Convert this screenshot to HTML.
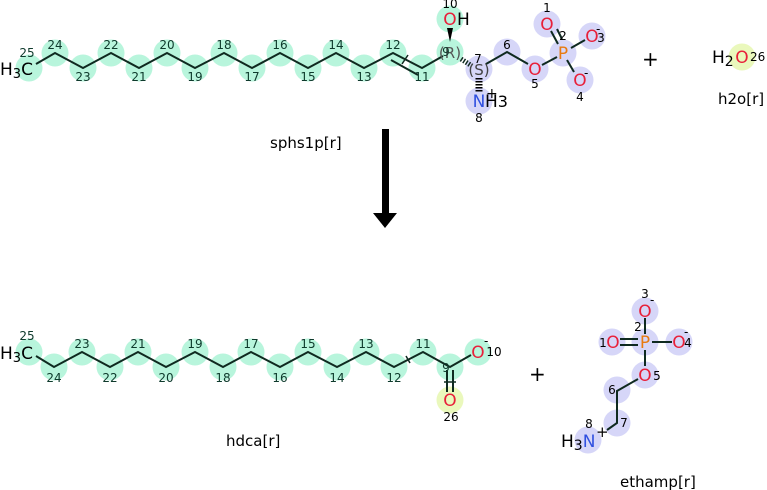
<!DOCTYPE html>
<html><head><meta charset="utf-8"><style>
html,body{margin:0;padding:0;background:#fff;}
svg{display:block;font-family:"DejaVu Sans","Liberation Sans",sans-serif;}
.g{fill:#b8f5dc}.b{fill:#d6d6f8}.y{fill:#eaf8bc}
.n{font-size:12px;fill:#0e3a2c;text-anchor:middle}
.k{font-size:12px;fill:#000;text-anchor:middle}
.bd{stroke:#0f2a20;stroke-width:2;fill:none}
.O{fill:#e8203a;font-size:17px;text-anchor:middle}
.P{fill:#e87a10;font-size:17px;text-anchor:middle}
.N{fill:#3050e0;font-size:17px;text-anchor:middle}
.t{font-size:17px;fill:#000}
.lab{font-size:15px;fill:#000}
</style></head><body>
<svg width="767" height="490" viewBox="0 0 767 490">
<g class="g">
<circle cx="29" cy="68" r="13.5"/><circle cx="55" cy="53" r="13.5"/><circle cx="83" cy="68" r="13.5"/><circle cx="111" cy="53" r="13.5"/><circle cx="139" cy="68" r="13.5"/><circle cx="167" cy="53" r="13.5"/><circle cx="195" cy="68" r="13.5"/><circle cx="224" cy="53" r="13.5"/><circle cx="252" cy="68" r="13.5"/><circle cx="280" cy="53" r="13.5"/><circle cx="308" cy="68" r="13.5"/><circle cx="336" cy="53" r="13.5"/><circle cx="364" cy="68" r="13.5"/><circle cx="393" cy="53" r="13.5"/><circle cx="422" cy="68" r="13.5"/><circle cx="450" cy="52" r="13.5"/><circle cx="450" cy="19" r="13.5"/>
</g>
<g class="b">
<circle cx="479" cy="69" r="13.5"/><circle cx="479" cy="101" r="13.5"/><circle cx="507" cy="52" r="13.5"/><circle cx="535" cy="69" r="13.5"/><circle cx="563" cy="53" r="13.5"/><circle cx="547" cy="24" r="13.5"/><circle cx="592" cy="36" r="13.5"/><circle cx="580" cy="80" r="13.5"/>
</g>
<circle class="y" cx="742" cy="57" r="13.5"/>
<polyline class="bd" points="36,64 55,53 83,68 111,53 139,68 167,53 195,68 224,53 252,68 280,53 308,68 336,53 364,68 393,53 422,68 443,56"/>
<line class="bd" x1="391" y1="60" x2="418" y2="75"/>
<line class="bd" x1="402" y1="64" x2="408" y2="55" style="stroke-width:1.5"/>
<polygon points="450,42 447,28 453,28" fill="#000"/>
<line class="bd" x1="461" y1="59" x2="472" y2="66" style="stroke-dasharray:1.5,1.5;stroke-width:5"/>
<line x1="479" y1="78" x2="479" y2="93" stroke="#000" stroke-width="7" stroke-dasharray="1.5,1.5"/>
<polyline class="bd" points="486,64 507,52 528,64"/>
<line class="bd" x1="542" y1="65" x2="557" y2="57"/>
<line class="bd" x1="571" y1="48" x2="585" y2="40"/>
<line class="bd" x1="567" y1="60" x2="574" y2="72"/>
<line class="bd" x1="551" y1="31" x2="558" y2="44"/>
<line class="bd" x1="557" y1="29" x2="562" y2="39"/>
<text class="t" x="0" y="75">H<tspan font-size="13" dy="3">3</tspan><tspan dy="-3">C</tspan></text>
<text class="O" x="450" y="25">O</text><text class="t" x="457" y="25">H</text>
<text x="450" y="58" font-size="15" fill="#555" text-anchor="middle">(R)</text>
<text x="479" y="75" font-size="15" fill="#444" text-anchor="middle">(S)</text>
<text class="N" x="479" y="107">N</text><text class="t" x="485" y="107">H<tspan font-size="16">3</tspan></text>
<text x="486" y="98" font-size="14" fill="#000">+</text>
<text class="O" x="535" y="75">O</text>
<text class="P" x="563" y="59">P</text>
<text class="O" x="547" y="30">O</text>
<text class="O" x="592" y="42">O</text>
<text class="O" x="580" y="86">O</text>
<text x="596" y="33" font-size="12">-</text>
<text x="584" y="77" font-size="12">-</text>
<text class="k" x="601" y="42">3</text>
<g class="n">
<text x="27" y="57">25</text><text x="55" y="49">24</text><text x="83" y="81">23</text><text x="111" y="49">22</text><text x="139" y="81">21</text><text x="167" y="49">20</text><text x="195" y="81">19</text><text x="224" y="49">18</text><text x="252" y="81">17</text><text x="280" y="49">16</text><text x="308" y="81">15</text><text x="336" y="49">14</text><text x="364" y="81">13</text><text x="393" y="49">12</text><text x="422" y="81">11</text><text x="446" y="56">9</text>
</g>
<g class="k">
<text x="450" y="8">10</text><text x="478" y="63">7</text><text x="479" y="122">8</text><text x="507" y="49">6</text><text x="535" y="88">5</text><text x="547" y="12">1</text><text x="563" y="40">2</text><text x="580" y="101">4</text>
</g>
<text class="t" x="712" y="63">H<tspan font-size="14" dy="3">2</tspan></text>
<text class="O" x="742" y="63">O</text>
<text x="750" y="61" font-size="12">26</text>
<text x="642" y="66" font-size="20">+</text>
<text class="lab" x="718" y="104">h2o[r]</text>
<text class="lab" x="270" y="148">sphs1p[r]</text>
<rect x="382" y="129" width="7" height="86" fill="#000"/>
<polygon points="373,213 397,213 385,228" fill="#000"/>
<g class="g">
<circle cx="29" cy="352" r="13.5"/><circle cx="54" cy="367" r="13.5"/><circle cx="82" cy="352" r="13.5"/><circle cx="110" cy="367" r="13.5"/><circle cx="138" cy="352" r="13.5"/><circle cx="166" cy="367" r="13.5"/><circle cx="195" cy="352" r="13.5"/><circle cx="223" cy="367" r="13.5"/><circle cx="251" cy="352" r="13.5"/><circle cx="280" cy="367" r="13.5"/><circle cx="308" cy="352" r="13.5"/><circle cx="337" cy="367" r="13.5"/><circle cx="366" cy="352" r="13.5"/><circle cx="394" cy="367" r="13.5"/><circle cx="423" cy="352" r="13.5"/><circle cx="450" cy="367" r="13.5"/><circle cx="478" cy="352" r="13.5"/>
</g>
<circle class="y" cx="450" cy="400" r="13.5"/>
<polyline class="bd" points="36,356 54,367 82,352 110,367 138,352 166,367 195,352 223,367 251,352 280,367 308,352 337,367 366,352 394,367 423,352 450,367 471,355"/>
<line class="bd" x1="447" y1="370" x2="447" y2="392"/><line class="bd" x1="453" y1="370" x2="453" y2="392"/>
<line class="bd" x1="444" y1="382" x2="456" y2="382" style="stroke-width:1.5"/>
<line class="bd" x1="406" y1="356" x2="410" y2="363" style="stroke-width:1.5"/>
<text class="t" x="0" y="359">H<tspan font-size="13" dy="3">3</tspan><tspan dy="-3">C</tspan></text>
<text class="O" x="478" y="358">O</text>
<text class="O" x="450" y="406">O</text>
<text x="484" y="345" font-size="12">-</text>
<g class="n">
<text x="27" y="340">25</text><text x="54" y="382">24</text><text x="82" y="348">23</text><text x="110" y="382">22</text><text x="138" y="348">21</text><text x="166" y="382">20</text><text x="195" y="348">19</text><text x="223" y="382">18</text><text x="251" y="348">17</text><text x="280" y="382">16</text><text x="308" y="348">15</text><text x="337" y="382">14</text><text x="366" y="348">13</text><text x="394" y="382">12</text><text x="423" y="348">11</text><text x="446" y="372">9</text>
</g>
<text class="k" x="494" y="356">10</text>
<text class="k" x="451" y="421">26</text>
<text x="529" y="381" font-size="20">+</text>
<text class="lab" x="226" y="446">hdca[r]</text>
<g class="b">
<circle cx="645" cy="311" r="13.5"/><circle cx="645" cy="342" r="13.5"/><circle cx="612" cy="342" r="13.5"/><circle cx="679" cy="342" r="13.5"/><circle cx="645" cy="375" r="13.5"/><circle cx="617" cy="390" r="13.5"/><circle cx="617" cy="423" r="13.5"/><circle cx="588" cy="440" r="13.5"/>
</g>
<line class="bd" x1="645" y1="318" x2="645" y2="334"/>
<line class="bd" x1="620" y1="339" x2="638" y2="339"/><line class="bd" x1="620" y1="345" x2="638" y2="345"/>
<line class="bd" x1="652" y1="342" x2="672" y2="342"/>
<line class="bd" x1="645" y1="350" x2="645" y2="366"/>
<polyline class="bd" points="638,379 617,391 617,423 607,430"/>
<text class="O" x="645" y="317">O</text>
<text class="P" x="645" y="348">P</text>
<text class="O" x="613" y="348">O</text>
<text class="O" x="679" y="348">O</text>
<text class="O" x="645" y="381">O</text>
<text x="650" y="304" font-size="12">-</text>
<text x="684" y="336" font-size="12">-</text>
<g class="k">
<text x="645" y="298">3</text><text x="638" y="331">2</text><text x="603" y="347">1</text><text x="688" y="347">4</text><text x="657" y="380">5</text><text x="612" y="394">6</text><text x="624" y="427">7</text><text x="589" y="428">8</text>
</g>
<text class="t" x="561" y="447">H<tspan font-size="14" dy="3">3</tspan><tspan dy="-3" fill="#3050e0">N</tspan></text>
<text x="596" y="437" font-size="15">+</text>
<text class="lab" x="620" y="487">ethamp[r]</text>
</svg>
</body></html>
